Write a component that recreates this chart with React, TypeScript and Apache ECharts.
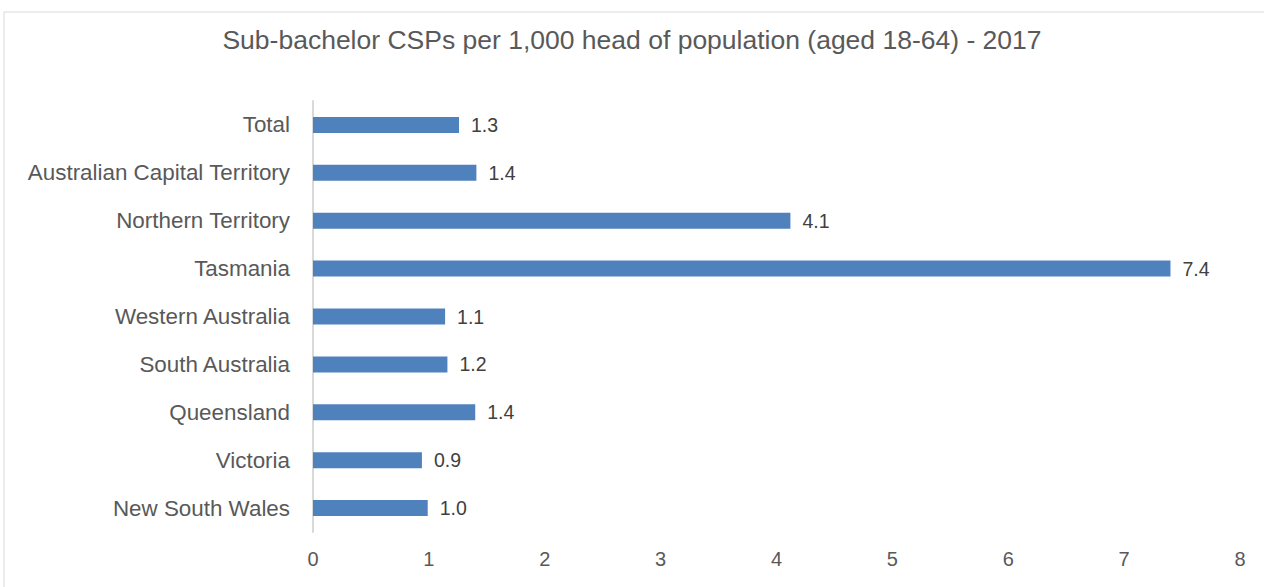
import React, { useEffect, useRef } from "react";
import * as echarts from "echarts";

const titleText = "Sub-bachelor CSPs per 1,000 head of population (aged 18-64) - 2017";
const categories = [
  "New South Wales",
  "Victoria",
  "Queensland",
  "South Australia",
  "Western Australia",
  "Tasmania",
  "Northern Territory",
  "Australian Capital Territory",
  "Total",
];
const values = [0.99, 0.94, 1.4, 1.16, 1.14, 7.4, 4.12, 1.41, 1.26];
const xTicks = [0, 1, 2, 3, 4, 5, 6, 7, 8];

const FONT = "Liberation Sans, sans-serif";

export default function App() {
  const ref = useRef<HTMLDivElement>(null);
  useEffect(() => {
    if (!ref.current) return;
    const chart = echarts.init(ref.current, undefined, { renderer: "svg" });
    chart.setOption({
      animation: false,
      backgroundColor: "#ffffff",
      title: {
        text: titleText,
        left: "center",
        top: 21,
        textStyle: { fontFamily: FONT, fontSize: 26.5, fontWeight: "normal", color: "#595959" },
      },
      graphic: [
        {
          type: "rect",
          shape: { x: 4, y: 12, width: 1262, height: 600 },
          style: { fill: "none", stroke: "#d9d9d9", lineWidth: 1 },
          silent: true,
        },
      ],
      grid: { left: 313, right: 24, top: 101, bottom: 55 },
      xAxis: {
        type: "value",
        min: xTicks[0],
        max: xTicks[xTicks.length - 1],
        interval: 1,
        splitLine: { show: false },
        axisLine: { show: false },
        axisTick: { show: false },
        axisLabel: { fontFamily: FONT, fontSize: 20, color: "#595959", margin: 17 },
      },
      yAxis: {
        type: "category",
        data: categories,
        axisLine: { show: true, lineStyle: { color: "#d9d9d9", width: 2 } },
        axisTick: { show: false },
        axisLabel: { fontFamily: FONT, fontSize: 22.4, color: "#595959", margin: 23 },
      },
      series: [
        {
          type: "bar",
          data: values,
          barWidth: 16,
          itemStyle: { color: "#4F81BD" },
          label: {
            show: true,
            position: "right",
            distance: 12,
            fontFamily: FONT,
            fontSize: 19.5,
            color: "#404040",
            formatter: (p: any) => Number(p.value).toFixed(1),
          },
        },
      ],
    });
    return () => chart.dispose();
  }, []);
  return (
    <div
      ref={ref}
      style={{ position: "fixed", left: 0, top: 0, width: "1264px", height: "587px" }}
    />
  );
}
